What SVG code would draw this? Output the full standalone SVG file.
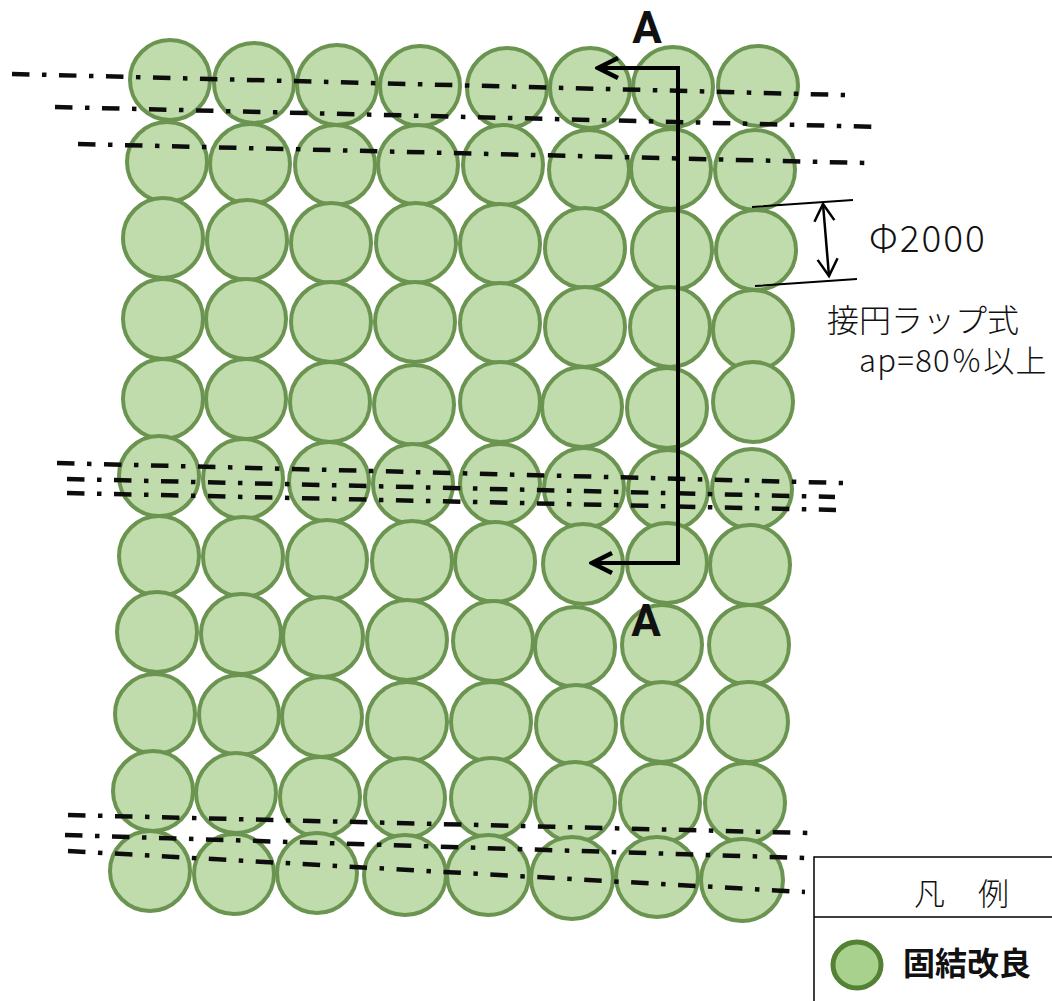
<svg xmlns="http://www.w3.org/2000/svg" width="1052" height="1001" viewBox="0 0 1052 1001">
<style>
.p{fill:#c0dcac;stroke:#6a9450;stroke-width:4}
.c{fill:none;stroke:#111;stroke-width:4.5;stroke-dasharray:17.5px,12.5px,4.5px,12.5px}
.k{fill:none;stroke:#000}
.t{font-family:"Noto Sans CJK JP","Liberation Sans",sans-serif;fill:#111}
.a{font-family:Roboto,"Liberation Sans",sans-serif;font-weight:700;font-size:44px;text-anchor:middle;fill:#111}
</style>
<defs>
<filter id="soft" x="-2%" y="-2%" width="104%" height="104%"><feGaussianBlur stdDeviation="0.7"/></filter>
<marker id="open" markerUnits="userSpaceOnUse" markerWidth="30" markerHeight="30" refX="27" refY="15" orient="auto-start-reverse" viewBox="0 0 30 30"><path d="M7 5 L27 15 L7 25" fill="none" stroke="#000" stroke-width="4.5"/></marker>
<marker id="thin" markerUnits="userSpaceOnUse" markerWidth="30" markerHeight="30" refX="27" refY="15" orient="auto-start-reverse" viewBox="0 0 30 30"><path d="M10 5 L27 15 L10 25" fill="none" stroke="#000" stroke-width="2.5"/></marker>
</defs>
<rect width="1052" height="1001" fill="#fff"/>
<g id="piles" filter="url(#soft)">
<g id="row1"><circle class="p" cx="170" cy="80" r="40"/><circle class="p" cx="254" cy="83" r="40"/><circle class="p" cx="337" cy="85" r="40"/><circle class="p" cx="420" cy="86" r="40"/><circle class="p" cx="507" cy="88" r="40"/><circle class="p" cx="590" cy="88" r="40"/><circle class="p" cx="673" cy="87" r="40"/><circle class="p" cx="758" cy="86" r="40"/></g>
<g id="row2"><circle class="p" cx="167" cy="162" r="40"/><circle class="p" cx="250" cy="164" r="40"/><circle class="p" cx="335" cy="165" r="40"/><circle class="p" cx="418" cy="165" r="40"/><circle class="p" cx="503" cy="165" r="40"/><circle class="p" cx="589" cy="170" r="40"/><circle class="p" cx="671" cy="169" r="40"/><circle class="p" cx="755" cy="170" r="40"/></g>
<g id="row3"><circle class="p" cx="163" cy="238" r="40"/><circle class="p" cx="247" cy="240" r="40"/><circle class="p" cx="331" cy="243" r="40"/><circle class="p" cx="416" cy="243" r="40"/><circle class="p" cx="500" cy="244" r="40"/><circle class="p" cx="585" cy="248" r="40"/><circle class="p" cx="672" cy="250" r="40"/><circle class="p" cx="756" cy="250" r="40"/></g>
<g id="row4"><circle class="p" cx="163" cy="319" r="40"/><circle class="p" cx="246" cy="319" r="40"/><circle class="p" cx="331" cy="322" r="40"/><circle class="p" cx="415" cy="322" r="40"/><circle class="p" cx="500" cy="323" r="40"/><circle class="p" cx="585" cy="327" r="40"/><circle class="p" cx="670" cy="327" r="40"/><circle class="p" cx="753" cy="330" r="40"/></g>
<g id="row5"><circle class="p" cx="163" cy="399" r="40"/><circle class="p" cx="246" cy="399" r="40"/><circle class="p" cx="330" cy="402" r="40"/><circle class="p" cx="414" cy="405" r="40"/><circle class="p" cx="500" cy="402" r="40"/><circle class="p" cx="582" cy="407" r="40"/><circle class="p" cx="667" cy="408" r="40"/><circle class="p" cx="753" cy="402" r="40"/></g>
<g id="row6"><circle class="p" cx="159" cy="476" r="40"/><circle class="p" cx="243" cy="479" r="40"/><circle class="p" cx="329" cy="482" r="40"/><circle class="p" cx="413" cy="484" r="40"/><circle class="p" cx="500" cy="484" r="40"/><circle class="p" cx="584" cy="488" r="40"/><circle class="p" cx="668" cy="490" r="40"/><circle class="p" cx="752" cy="489" r="40"/></g>
<g id="row7"><circle class="p" cx="159" cy="556" r="40"/><circle class="p" cx="243" cy="557" r="40"/><circle class="p" cx="327" cy="560" r="40"/><circle class="p" cx="412" cy="561" r="40"/><circle class="p" cx="495" cy="562" r="40"/><circle class="p" cx="583" cy="564" r="40"/><circle class="p" cx="667" cy="563" r="40"/><circle class="p" cx="750" cy="565" r="40"/></g>
<g id="row8"><circle class="p" cx="157" cy="632" r="40"/><circle class="p" cx="241" cy="634" r="40"/><circle class="p" cx="323" cy="637" r="40"/><circle class="p" cx="407" cy="640" r="40"/><circle class="p" cx="493" cy="641" r="40"/><circle class="p" cx="575" cy="647" r="40"/><circle class="p" cx="662" cy="645" r="40"/><circle class="p" cx="749" cy="645" r="40"/></g>
<g id="row9"><circle class="p" cx="155" cy="714" r="40"/><circle class="p" cx="239" cy="715" r="40"/><circle class="p" cx="322" cy="717" r="40"/><circle class="p" cx="407" cy="722" r="40"/><circle class="p" cx="491" cy="722" r="40"/><circle class="p" cx="576" cy="725" r="40"/><circle class="p" cx="662" cy="722" r="40"/><circle class="p" cx="748" cy="722" r="40"/></g>
<g id="row10"><circle class="p" cx="153" cy="791" r="40"/><circle class="p" cx="236" cy="793" r="40"/><circle class="p" cx="320" cy="797" r="40"/><circle class="p" cx="405" cy="798" r="40"/><circle class="p" cx="491" cy="798" r="40"/><circle class="p" cx="575" cy="802" r="40"/><circle class="p" cx="660" cy="803" r="40"/><circle class="p" cx="745" cy="803" r="40"/></g>
<g id="row11"><circle class="p" cx="150" cy="871" r="40"/><circle class="p" cx="234" cy="874" r="40"/><circle class="p" cx="317" cy="873" r="40"/><ellipse class="p" cx="405" cy="875" rx="41" ry="40"/><ellipse class="p" cx="488" cy="875" rx="41" ry="40"/><ellipse class="p" cx="572" cy="878" rx="41" ry="41"/><ellipse class="p" cx="657" cy="877" rx="41" ry="40"/><ellipse class="p" cx="742" cy="880" rx="41" ry="41"/></g>
</g>
<g id="connectors">
<g id="centre-lines" filter="url(#soft)">
<path class="c" d="M12 74 L845 95"/>
<path class="c" d="M55 107 L883 127"/>
<path class="c" d="M78 144 L865 163"/>
<path class="c" d="M57 463 L843 483"/>
<path class="c" d="M67 479 L835 497"/>
<path class="c" d="M67 493 L836 510"/>
<path class="c" d="M68 815 L808 833"/>
<path class="c" d="M65 835 L805 858"/>
<path class="c" d="M68 851 L805 892"/>
</g>
<path class="k" stroke-width="4" marker-start="url(#open)" marker-end="url(#open)" d="M598 68 H678 V563 H592"/>
<path class="k" stroke-width="2" d="M752 207 L853 200 M755 286 L857 279"/>
<path class="k" stroke-width="2.5" marker-start="url(#thin)" marker-end="url(#thin)" d="M823 204 L829 276"/>
</g>
<g id="labels">
<text class="a" x="647" y="43">A</text>
<text class="a" x="646" y="636">A</text>
<text class="t" x="869" y="252" font-size="37" font-weight="300" letter-spacing="2">Φ2000</text>
<text class="t" x="827" y="332" font-size="32" font-weight="300">接円ラップ式</text>
<text class="t" x="859" y="372" font-size="31" font-weight="300" letter-spacing="1.3">ap=80％以上</text>
</g>
<g id="legend">
<path d="M1052 857 H814 V1001 M814 917 H1052" fill="none" stroke="#000" stroke-width="1.5"/>
<text class="t" x="914" y="905" font-size="31" font-weight="300">凡</text>
<text class="t" x="978" y="905" font-size="31" font-weight="300">例</text>
<ellipse cx="857" cy="965" rx="24" ry="23" fill="#a9d18e" stroke="#548235" stroke-width="5"/>
<text class="t" x="903" y="975" font-size="32" font-weight="700">固結改良</text>
</g>
</svg>
